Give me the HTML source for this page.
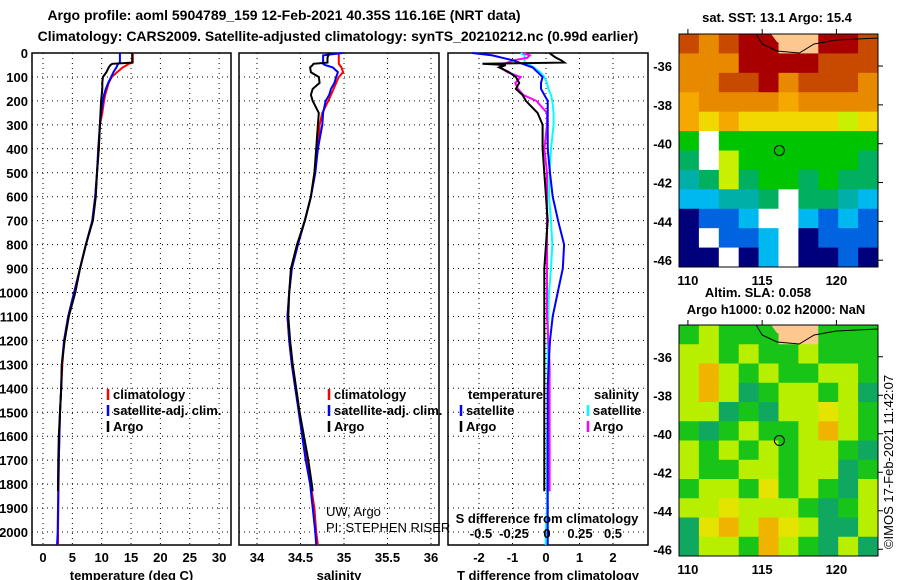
<!DOCTYPE html>
<html><head><meta charset="utf-8"><style>
body{margin:0;background:#fff;}
svg{display:block;font-family:"Liberation Sans",sans-serif;}
.b{font-weight:bold;font-size:13px;}
.n{font-weight:normal;font-size:13px;}
.t{font-weight:bold;font-size:14px;}
</style></head><body>
<svg id="c" width="900" height="580" viewBox="0 0 900 580" xmlns="http://www.w3.org/2000/svg">
<text class="t" x="284" y="20" text-anchor="middle">Argo profile: aoml 5904789_159 12-Feb-2021 40.35S 116.16E (NRT data)</text>
<text class="t" x="338" y="41" text-anchor="middle">Climatology: CARS2009. Satellite-adjusted climatology: synTS_20210212.nc (0.99d earlier)</text>
<g id="g"></g>
</svg>
<script>
// depths (m)
const depths=[0,10,20,30,40,45,50,60,80,100,125,150,175,200,250,300,400,500,600,700,800,900,1000,1100,1200,1300,1400,1500,1600,1700,1800,1830,1900,2000,2054];
// temperature (deg C)
const tArgo=[15.2,15.2,15.2,15.2,15.2,11.8,11.5,11.2,10.8,10.2,10.1,10.1,10.0,9.9,9.8,9.7,9.5,9.2,9.0,8.5,7.3,6.3,5.5,4.4,3.7,3.2,3.1,2.9,2.7,2.6,2.55,2.55,null,null,null];
const tClim=[15.3,15.3,15.3,15.3,15.3,14.6,14.3,13.6,12.6,11.7,11.2,10.9,10.6,10.4,10.1,9.7,9.5,9.2,8.9,8.4,7.3,6.3,5.3,4.3,3.6,3.3,3.1,2.9,2.8,2.7,2.65,2.62,2.6,2.55,2.55];
const tSat=[13.1,13.1,13.1,13.1,13.1,12.8,12.7,12.5,12.0,11.6,11.1,10.7,10.4,10.2,9.9,9.7,9.4,9.2,8.9,8.4,7.3,6.3,5.3,4.3,3.6,3.2,3.1,2.9,2.8,2.7,2.6,2.6,2.55,2.5,2.4];
// salinity
const sArgo=[34.82,34.82,34.81,34.81,34.81,34.65,34.64,34.61,34.62,34.71,34.72,34.64,34.62,34.64,34.71,34.70,34.68,34.66,34.62,34.55,34.46,34.39,34.37,34.36,34.38,34.41,34.45,34.49,34.54,34.59,34.63,34.64,null,null,null];
const sClim=[34.94,34.94,34.94,34.94,34.94,34.94,34.95,34.97,34.99,34.94,34.91,34.88,34.85,34.82,34.75,34.72,34.70,34.66,34.62,34.55,34.47,34.40,34.37,34.35,34.37,34.40,34.44,34.49,34.53,34.58,34.62,34.63,34.66,34.68,34.70];
const sSat=[34.98,34.76,34.76,34.76,34.76,34.76,34.78,34.87,34.93,34.91,34.89,34.85,34.83,34.79,34.76,34.75,34.70,34.67,34.62,34.55,34.47,34.40,34.37,34.35,34.37,34.40,34.44,34.48,34.52,34.56,34.61,34.62,34.64,34.67,34.68];
// differences
const dTArgo=[0.1,0.2,0.3,0.45,0.55,-1.9,-1.2,-1.4,-1.1,-0.9,-0.8,-0.9,-0.7,-0.6,-0.25,-0.1,-0.1,-0.05,0.0,0.05,0.0,-0.05,-0.05,-0.05,-0.05,-0.05,-0.05,-0.05,-0.05,-0.05,-0.05,-0.05,null,null,null];
const dTSat=[-2.2,-1.6,-1.3,-1.0,-0.8,-0.7,-0.6,-0.4,-0.25,-0.1,-0.15,-0.15,-0.05,0.05,0.05,0.05,0.05,0.12,0.2,0.36,0.54,0.5,0.35,0.2,0.12,0.08,0.05,0.05,0.05,0.05,0.05,0.05,0.05,0.05,0.05];
const dSArgo=[-0.18,-0.13,-0.15,-0.25,-0.3,-0.33,-0.36,-0.35,-0.3,-0.2,-0.24,-0.22,-0.18,-0.08,0.0,0.0,-0.02,0.0,0.0,0.0,0.0,0.0,0.0,0.0,0.01,0.02,0.02,0.02,0.02,0.02,0.02,0.02,null,null,null];
const dSSat=[-0.2,-0.17,-0.17,-0.17,-0.17,-0.14,-0.13,-0.1,-0.05,-0.02,0.0,0.01,0.03,0.04,0.05,0.05,0.03,0.02,0.015,0.03,0.04,0.03,0.015,0.01,0.005,0.005,0.005,0.005,0.0,0.0,0.0,0.0,0.0,-0.01,-0.01];
// tick labels
const depthTicks=[0,100,200,300,400,500,600,700,800,900,1000,1100,1200,1300,1400,1500,1600,1700,1800,1900,2000];
const tTicks=[0,5,10,15,20,25,30];
const sTicks=[34,34.5,35,35.5,36];
const sTickLabels=["34","34.5","35","35.5","36"];
const dTTicks=[-2,-1,0,1,2];
const dSTicks=[-0.5,-0.25,0,0.25,0.5];
const dSTickLabels=["-0.5","-0.25","0","0.25","0.5"];
const lonTicks=[110,115,120];
const latTicks=[-36,-38,-40,-42,-44,-46];
const argoLon=116.16, argoLat=-40.35;
// map cell rows (colour codes)
const sstRows=["BOBRRPPRRB","OOORRRRBBB","OOBBROBBBO","oOOOOoOOOO","oYoYYYYYyY","GWGGGGGGGG","gWyGGGGGGg","TgygGGgGgg","CCTTgWggTC","NLLCWWCLCL","NWLLCWNLLL","NNWNCWNNLN"];
const slaRows=["GyGGGPPGGG","yyGyGGyGGG","yOyGyGGyyG","yOygGyyGyg","yygGgyyYyG","GgGyGGyOyG","yGyGyGyyGg","yGGyyGyygG","GyyGYGyGgy","yyYyyyGgGy","gYOyOYyggy","gyyGOyGgyg"];

const NS="http://www.w3.org/2000/svg";
const G=document.getElementById('g');
function mk(tag,attrs,parent){const e=document.createElementNS(NS,tag);for(const k in attrs)e.setAttribute(k,attrs[k]);(parent||G).appendChild(e);return e;}
function txt(s,x,y,cls,anchor,parent){const e=mk('text',{x:x,y:y,class:cls||'b','text-anchor':anchor||'middle'},parent);e.textContent=s;return e;}
const yD=d=>53+d*0.2395;
const TOP=53,BOT=545;
const xT=v=>43+v*5.87, xS=v=>257+(v-34)*87, xdT=v=>546+v*33.5, xdS=v=>547+v*132;

function panel(name,L,R,xticks,xfn,labels,labY,title){
  const g=mk('g',{});
  
  
  depthTicks.forEach(d=>{const l=mk('line',{x1:L,x2:R,y1:yD(d),y2:yD(d),stroke:'#000','stroke-dasharray':'1,4'},g);
    
    });
  xticks.forEach((v,i)=>{const l=mk('line',{x1:xfn(v),x2:xfn(v),y1:TOP,y2:BOT,stroke:'#000','stroke-dasharray':'1,4'},g);
    
    
    if(labels){const t=txt(labels[i],xfn(v),labY,'b','middle',g);
      
      }});
  const r=mk('rect',{x:L,y:TOP,width:R-L,height:BOT-TOP,fill:'none',stroke:'#000','stroke-width':1.5},g);
  
  
  if(title){const t=txt(title,(L+R)/2,580,'b','middle',g);
    
    }
  return g;
}
function line(vals,xfn,color,name,g){
  let pts=[];vals.forEach((v,i)=>{if(v!==null)pts.push(xfn(v).toFixed(1)+','+yD(depths[i]).toFixed(1));});
  const p=mk('polyline',{points:pts.join(' '),fill:'none',stroke:color,'stroke-width':2},g);
  
  
}
function legend(items,x,y0,g){
  items.forEach((it,i)=>{const y=y0+i*16;
    const m=mk('line',{x1:x,x2:x,y1:y-10,y2:y+1,stroke:it[1],'stroke-width':2.5},g);
    
    
    const t=txt(it[0],x+5,y,'b','start',g);
    
    });
}
depthTicks.forEach(d=>{const t=txt(String(d),28,yD(d)+5,'b','end');
  
  });

const p1=panel('temperature-panel',32,231,tTicks,xT,tTicks.map(String),562,'temperature (deg C)');
line(tClim,xT,'#f00','climatology-temp-line',p1);
line(tSat,xT,'#00f','satellite-temp-line',p1);
line(tArgo,xT,'#000','argo-temp-line',p1);
legend([['climatology','#f00'],['satellite-adj. clim.','#00f'],['Argo','#000']],108,399,p1);

const p2=panel('salinity-panel',239,439,sTicks,xS,sTickLabels,562,'salinity');
line(sClim,xS,'#f00','climatology-sal-line',p2);
line(sSat,xS,'#00f','satellite-sal-line',p2);
line(sArgo,xS,'#000','argo-sal-line',p2);
legend([['climatology','#f00'],['satellite-adj. clim.','#00f'],['Argo','#000']],329,399,p2);
const pi1=txt('UW, Argo',326,516,'n','start',p2);


const pi2=txt('PI: STEPHEN RISER',326,532,'n','start',p2);



const p3=panel('difference-panel',448,648,dTTicks,xdT,dTTicks.map(String),562,'T difference from climatology');
line(dSSat,xdS,'#0ff','satellite-sal-diff-line',p3);
line(dSArgo,xdS,'#f0f','argo-sal-diff-line',p3);
line(dTSat,xdT,'#00f','satellite-temp-diff-line',p3);
line(dTArgo,xdT,'#000','argo-temp-diff-line',p3);
let tt=txt('temperature',468,399,'b','start',p3);


let st=txt('salinity',594,399,'b','start',p3);


legend([['satellite','#00f'],['Argo','#000']],461,415,p3);
legend([['satellite','#0ff'],['Argo','#f0f']],588,415,p3);
let sd=txt('S difference from climatology',547,523,'b','middle',p3);


dSTicks.forEach((v,i)=>{const t=txt(dSTickLabels[i],xdS(v),538,'b','middle',p3);
  
  });

const ML=679,MR=878,LON0=109.4,LON1=122.8,LAT0=-34.35,LAT1=-46.35;
const sstCol={R:'#a80000',B:'#c84a00',O:'#e88a00',o:'#f4a800',Y:'#f0d800',y:'#c8f000',G:'#00c400',g:'#00b060',T:'#00b0a8',C:'#00b8f0',L:'#0064e0',N:'#00007c',W:'#ffffff',P:'#fcc890'};
const slaCol={y:'#b8ee00',G:'#18c418',g:'#10a860',O:'#f0b400',Y:'#e4e400',P:'#fcc890'};
function map(name,top,bot,rows,cols){
  const g=mk('g',{});
  
  
  const xL=v=>ML+(v-LON0)/(LON1-LON0)*(MR-ML);
  const yL=v=>top+(v-LAT0)/(LAT1-LAT0)*(bot-top);
  const nr=rows.length,nc=rows[0].length,cw=(MR-ML)/nc,ch=(bot-top)/nr;
  rows.forEach((r,i)=>{for(let j=0;j<nc;j++){const c=mk('rect',{x:ML+j*cw,y:top+i*ch,width:cw+0.5,height:ch+0.5,fill:cols[r[j]]},g);
    
    }});
  const land=mk('path',{d:`M${xL(115.6)},${top} L${xL(116)},${top+8} L${xL(117)},${top+13} L${xL(118)},${top+9} L${xL(118.5)},${top} Z`,fill:'#fcc890'},g);
  
  
  const cst=mk('path',{d:`M${xL(114.6)},${top} L${xL(115)},${top+10} L${xL(116)},${top+17} L${xL(117.5)},${top+19} L${xL(118.5)},${top+10} L${xL(120)},${top+6} L${MR},${top+4}`,fill:'none',stroke:'#000','stroke-width':1},g);
  
  
  const ci=mk('circle',{cx:xL(argoLon),cy:yL(argoLat),r:5,fill:'none',stroke:'#000','stroke-width':1},g);
  
  
  const fr=mk('rect',{x:ML,y:top,width:MR-ML,height:bot-top,fill:'none',stroke:'#000'},g);
  
  
  latTicks.forEach(v=>{const t=txt(String(v),672,yL(v)+5,'b','end',g);
    
    
    mk('line',{x1:MR,x2:MR+5,y1:yL(v),y2:yL(v),stroke:'#000'},g);});
  lonTicks.forEach(v=>{const t=txt(String(v),xL(v),bot+18,'b','middle',g);
    
    
    mk('line',{x1:xL(v),x2:xL(v),y1:top-5,y2:top,stroke:'#000'},g);});
}
map('sst-map',34,267,sstRows,sstCol);
map('sla-map',325,556,slaRows,slaCol);
let m1=txt('sat. SST: 13.1 Argo: 15.4',777,22,'b','middle');


let m2=txt('Altim. SLA: 0.058',758,297,'b','middle');


let m3=txt('Argo h1000: 0.02 h2000: NaN',776,314,'b','middle');


let cr=txt('©IMOS 17-Feb-2021 11:42:07',0,0,'n','middle');
cr.setAttribute('transform','translate(893,462) rotate(-90)');


</script>
</body></html>
